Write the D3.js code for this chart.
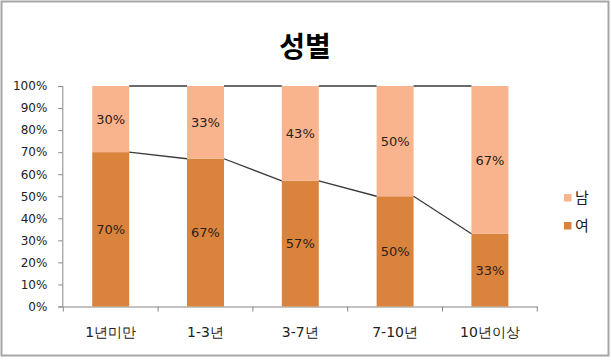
<!DOCTYPE html>
<html><head><meta charset="utf-8">
<script src="https://cdn.jsdelivr.net/npm/d3@7"></script>
<style>body{margin:0;background:#fff}svg{display:block}</style>
</head><body>
<svg id="c" width="611" height="360"></svg>
<script>
const categories = ["1년미만", "1-3년", "3-7년", "7-10년", "10년이상"];
const female = [70, 67, 57, 50, 33]; // 여
const male = [30, 33, 43, 50, 67];   // 남
const yTicks = [0, 10, 20, 30, 40, 50, 60, 70, 80, 90, 100];
const seriesNames = ["남", "여"];
const colors = {"남": "#F9B48D", "여": "#DA833D"};

const svg = d3.select("#c");
const font = "'DejaVu Sans', Verdana, sans-serif";

// border
svg.append("rect").attr("x", 1.5).attr("y", 1.5).attr("width", 607).attr("height", 354)
  .attr("fill", "#fff").attr("stroke", "#a6a6a6").attr("stroke-width", 2);

const x0 = 63.3, x1 = 537.3, yTop = 86, yBot = 306.5;
const x = d3.scaleBand().domain(categories).range([x0, x1]).paddingInner(0.61).paddingOuter(0.305);
const y = d3.scaleLinear().domain([0, 100]).range([yBot, yTop]);

// title
svg.append("text").attr("x", 305).attr("y", 57).attr("text-anchor", "middle")
  .attr("font-family", "'Noto Sans CJK KR', sans-serif").attr("font-weight", "bold")
  .attr("font-size", 28).attr("fill", "#000").text("성별");

// axes
const yAxis = d3.axisLeft(y).tickValues(yTicks).tickSize(4).tickFormat(d => d + "%");
const gy = svg.append("g").attr("transform", `translate(${x0 - 1},0)`).call(yAxis);
gy.select(".domain").attr("stroke", "#868686");
gy.selectAll(".tick line").attr("stroke", "#868686");
gy.selectAll(".tick text").attr("font-family", font).attr("font-size", 12).attr("fill", "#222").attr("x", -15);

const xAxis = d3.axisBottom(x).tickSize(0).tickSizeOuter(0);
const gx = svg.append("g").attr("transform", `translate(0,${yBot})`).call(xAxis);
gx.select(".domain").attr("stroke", "#868686");
gx.selectAll(".tick text").attr("font-family", font).attr("font-size", 14).attr("fill", "#222").attr("dy", 0).attr("y", 30);
// x tick marks at band boundaries
const bounds = d3.range(categories.length + 1).map(i => x0 + i * x.step());
svg.append("g").selectAll("line").data(bounds).join("line")
  .attr("x1", d => d).attr("x2", d => d).attr("y1", yBot).attr("y2", yBot + 5)
  .attr("stroke", "#868686");

// bars
const bars = svg.append("g");
categories.forEach((c, i) => {
  bars.append("rect").attr("x", x(c)).attr("width", x.bandwidth())
    .attr("y", y(female[i])).attr("height", y(0) - y(female[i])).attr("fill", colors["여"]);
  bars.append("rect").attr("x", x(c)).attr("width", x.bandwidth())
    .attr("y", y(female[i] + male[i])).attr("height", y(0) - y(male[i])).attr("fill", colors["남"]);
});

// series lines
const lines = svg.append("g").attr("stroke", "#3a3a3a").attr("stroke-width", 1.3).attr("fill", "none");
for (let i = 0; i < categories.length - 1; i++) {
  const xa = x(categories[i]) + x.bandwidth(), xb = x(categories[i + 1]);
  lines.append("line").attr("x1", xa).attr("x2", xb).attr("y1", y(female[i])).attr("y2", y(female[i + 1]));
  lines.append("line").attr("x1", xa).attr("x2", xb).attr("y1", y(female[i] + male[i])).attr("y2", y(female[i + 1] + male[i + 1]));
}

// data labels
const labels = svg.append("g").attr("font-family", font).attr("font-size", 13).attr("fill", "#2b2118").attr("text-anchor", "middle");
categories.forEach((c, i) => {
  const cx = x(c) + x.bandwidth() / 2;
  labels.append("text").attr("x", cx).attr("y", y(female[i] / 2)).attr("dy", "0.36em").text(female[i] + "%");
  labels.append("text").attr("x", cx).attr("y", y(female[i] + male[i] / 2)).attr("dy", "0.36em").text(male[i] + "%");
});

// legend
const lg = svg.append("g");
seriesNames.forEach((s, i) => {
  const ly = 197.5 + i * 28;
  lg.append("rect").attr("x", 564).attr("y", ly - 3.5).attr("width", 7.5).attr("height", 7.5).attr("fill", colors[s]);
  lg.append("text").attr("x", 575).attr("y", ly).attr("dy", "0.36em")
    .attr("font-family", "'Noto Sans CJK KR', sans-serif").attr("font-size", 15).attr("fill", "#222").text(s);
});
</script>
</body></html>
